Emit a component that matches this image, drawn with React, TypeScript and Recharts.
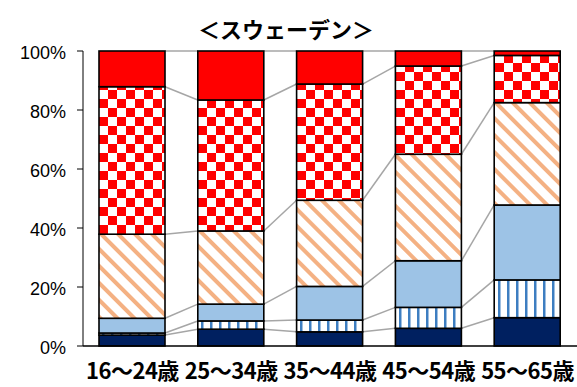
import React from "react"
import { Bar, BarChart, XAxis, YAxis } from "recharts"

const ageGroups = ["16～24歳", "25～34歳", "35～44歳", "45～54歳", "55～65歳"]

// shares (%) stacked bottom to top
const navyShare = [3.7, 5.7, 4.8, 6.0, 9.6]
const stripeShare = [0.7, 2.8, 4.0, 7.1, 12.8]
const lightBlueShare = [5.0, 5.7, 11.4, 15.8, 25.4]
const orangeShare = [28.5, 24.8, 29.2, 36.1, 34.7]
const checkShare = [50.0, 44.4, 39.4, 29.9, 16.0]
const redShare = [12.1, 16.6, 11.2, 5.1, 1.5]

const yTicks = [0, 20, 40, 60, 80, 100]

const seriesKeys = ["navy", "stripe", "lightBlue", "orange", "check", "red"]
const seriesValues = [navyShare, stripeShare, lightBlueShare, orangeShare, checkShare, redShare]
const seriesFills = [
  "#002060",
  "url(#vstripe)",
  "#9DC3E6",
  "url(#diag)",
  "url(#checker)",
  "#FF0000",
]

const data = ageGroups.map((name, i) => {
  const row: Record<string, any> = { name }
  seriesKeys.forEach((key, k) => {
    row[key] = seriesValues[k][i]
  })
  return row
})

// cumulative top of series k at category i
const cumTop = (k: number, i: number) => {
  let sum = 0
  for (let j = 0; j <= k; j++) sum += seriesValues[j][i]
  return sum
}

const WIDTH = 577
const HEIGHT = 387
const Y_AXIS_W = 83
const MARGIN = { top: 51, right: 0, bottom: 0, left: 0 }
const STEP = (WIDTH - Y_AXIS_W - MARGIN.left - MARGIN.right) / ageGroups.length

const makeShape = (k: number) => (props: any) => {
  const { x, y, width, height, index, fill } = props
  const v = seriesValues[k][index]
  let connector = null
  if (index < ageGroups.length - 1 && v > 0 && height > 0) {
    const perUnit = height / v
    const zeroY = y + height + (cumTop(k, index) - v) * perUnit
    const nextY = zeroY - cumTop(k, index + 1) * perUnit
    connector = (
      <line
        x1={x + width}
        y1={y}
        x2={x + STEP}
        y2={nextY}
        stroke="#A6A6A6"
        strokeWidth={1.5}
      />
    )
  }
  return (
    <g>
      {connector}
      <rect x={x} y={y} width={width} height={height} fill={fill} stroke="#000" strokeWidth={1.6} />
    </g>
  )
}

const AgeTick = (props: any) => {
  const { x, y, payload } = props
  return (
    <text
      x={x}
      y={y}
      dy={25}
      textAnchor="middle"
      fontFamily="'Noto Sans CJK JP', sans-serif"
      fontWeight="bold"
      fontSize={22}
      letterSpacing={-0.5}
      fill="#000"
    >
      {payload.value}
    </text>
  )
}

const PercentTick = (props: any) => {
  const { x, y, payload } = props
  return (
    <text
      x={x}
      y={y}
      dy={8}
      textAnchor="end"
      fontFamily="'Liberation Sans', Arial, sans-serif"
      fontSize={18}
      fill="#000"
    >
      {`${payload.value}%`}
    </text>
  )
}

export default function App() {
  return (
    <div style={{ position: "absolute", left: 0, top: 0, width: WIDTH, height: HEIGHT, background: "#fff" }}>
      <div
        style={{
          position: "absolute",
          left: 0,
          top: 12,
          width: 572,
          textAlign: "center",
          fontFamily: "'Noto Sans CJK JP', sans-serif",
          fontWeight: "bold",
          fontSize: 22,
          lineHeight: "32px",
          color: "#000",
        }}
      >
        ＜スウェーデン＞
      </div>
      <BarChart width={WIDTH} height={HEIGHT} data={data} margin={MARGIN} barSize={66}>
        <defs>
          <pattern id="vstripe" width="9" height="9" patternUnits="userSpaceOnUse">
            <rect width="9" height="9" fill="#fff" />
            <rect x="3" width="2.5" height="9" fill="#3D7EC1" />
          </pattern>
          <pattern id="diag" width="12" height="12" patternUnits="userSpaceOnUse" patternTransform="rotate(-45)">
            <rect width="12" height="12" fill="#fff" />
            <rect width="4" height="12" fill="#F4B183" />
          </pattern>
          <pattern id="checker" width="18" height="18" patternUnits="userSpaceOnUse">
            <rect width="18" height="18" fill="#fff" />
            <rect width="9" height="9" fill="#FF0000" />
            <rect x="9" y="9" width="9" height="9" fill="#FF0000" />
          </pattern>
        </defs>
        <XAxis
          dataKey="name"
          height={41}
          tickLine={false}
          axisLine={{ stroke: "#000", strokeWidth: 1.5 }}
          tick={<AgeTick />}
          interval={0}
        />
        <YAxis
          width={Y_AXIS_W}
          domain={[0, 100]}
          ticks={yTicks}
          tickSize={6}
          tickMargin={11}
          axisLine={{ stroke: "#000" }}
          tickLine={{ stroke: "#000" }}
          tick={<PercentTick />}
        />
        {seriesKeys.map((key, k) => (
          <Bar
            key={key}
            dataKey={key}
            stackId="share"
            fill={seriesFills[k]}
            shape={makeShape(k)}
            isAnimationActive={false}
          />
        ))}
      </BarChart>
    </div>
  )
}
